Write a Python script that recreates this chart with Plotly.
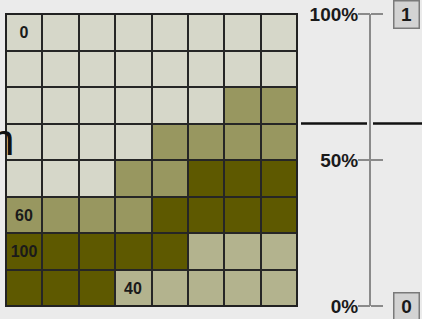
import plotly.graph_objects as go

# ---- data ----
columns = [0, 1, 2, 3, 4, 5, 6, 7]
rows = [0, 1, 2, 3, 4, 5, 6, 7]
cell_values = [
    [0, 0, 0, 0, 0, 0, 0, 0],
    [0, 0, 0, 0, 0, 0, 0, 0],
    [0, 0, 0, 0, 0, 0, 60, 60],
    [0, 0, 0, 0, 60, 60, 60, 60],
    [0, 0, 0, 60, 60, 100, 100, 100],
    [60, 60, 60, 60, 100, 100, 100, 100],
    [100, 100, 100, 100, 100, 40, 40, 40],
    [100, 100, 100, 40, 40, 40, 40, 40],
]
cell_labels = [
    ["0", "", "", "", "", "", "", ""],
    ["", "", "", "", "", "", "", ""],
    ["", "", "", "", "", "", "", ""],
    ["", "", "", "", "", "", "", ""],
    ["", "", "", "", "", "", "", ""],
    ["60", "", "", "", "", "", "", ""],
    ["100", "", "", "", "", "", "", ""],
    ["", "", "", "40", "", "", "", ""],
]
scale_ticks = [0, 0.5, 1.0]
scale_tick_labels = ["0%", "50%", "100%"]
marker_value = 0.625
top_box_label = "1"
bottom_box_label = "0"

W, H = 422, 319
BG = "#EBEBEB"
FONT = "Liberation Sans, Arial, sans-serif"

colorscale = [
    [0.0, "#D6D7C9"],
    [0.4, "#B3B38E"],
    [0.6, "#989760"],
    [1.0, "#5E5900"],
]

fig = go.Figure()
fig.add_trace(go.Heatmap(
    z=cell_values, x=columns, y=rows, text=cell_labels,
    texttemplate="<b>%{text}</b>",
    textfont=dict(family=FONT, size=16, color="#1a1a1a"),
    colorscale=colorscale, zmin=0, zmax=100, showscale=False,
    xgap=2, ygap=2, hoverinfo="skip",
))

x0p, x1p = 6 / W, 297 / W
y0p, y1p = (H - 306) / H, (H - 14) / H
axis_pos = 370 / W

tick_common = dict(
    domain=[y0p, y1p], range=[0, 1], anchor="free", position=axis_pos,
    overlaying="y", automargin=False, tickvals=scale_ticks,
    showgrid=False, zeroline=False,
)

fig.update_layout(
    width=W, height=H,
    margin=dict(l=0, r=0, t=0, b=0, pad=0, autoexpand=False),
    paper_bgcolor=BG, plot_bgcolor="#262626",
    showlegend=False,
    xaxis=dict(domain=[x0p, x1p], visible=False, range=[-0.5, 7.5], automargin=False),
    yaxis=dict(domain=[y0p, y1p], visible=False, range=[7.5, -0.5], automargin=False),
    # labels + axis line
    yaxis2=dict(
        **tick_common, side="left", ticktext=scale_tick_labels,
        ticks="", ticklabelstandoff=7,
        showline=True, linecolor="#8a8a8a", linewidth=2,
        tickfont=dict(family=FONT, size=19, color="#1a1a1a", weight="bold"),
    ),
    # right half of tick marks
    yaxis3=dict(
        **tick_common, side="right", showticklabels=False,
        ticks="outside", ticklen=12, tickwidth=1.5, tickcolor="#8a8a8a",
        showline=False,
    ),
    # left half of tick marks
    yaxis4=dict(
        **tick_common, side="left", showticklabels=False,
        ticks="outside", ticklen=12, tickwidth=1.5, tickcolor="#8a8a8a",
        showline=False,
    ),
)

# invisible helpers so that the scale axes are rendered
for ax in ["y2", "y3", "y4"]:
    fig.add_trace(go.Scatter(x=[0], y=[0], yaxis=ax, mode="markers",
                             marker=dict(opacity=0), hoverinfo="skip"))

# outer border of the grid
fig.add_shape(type="rect", xref="x domain", yref="y domain", x0=0, x1=1, y0=0, y1=1,
              line=dict(color="#222", width=2))

# threshold marker line across the scale
fig.add_shape(type="line", xref="paper", yref="y2", x0=301 / W, x1=367 / W,
              y0=marker_value, y1=marker_value, line=dict(color="#111", width=2.5))
fig.add_shape(type="line", xref="paper", yref="y2", x0=373 / W, x1=1.0,
              y0=marker_value, y1=marker_value, line=dict(color="#111", width=2.5))

# value boxes
for val, lab in [(1.0, top_box_label), (0.0, bottom_box_label)]:
    fig.add_annotation(
        x=406 / W, xref="paper", y=val, yref="y2", text="<b>%s</b>" % lab,
        showarrow=False, font=dict(family=FONT, size=19, color="#1a1a1a"),
        bgcolor="#D3D3D3", bordercolor="#7a7a7a", borderwidth=1.5,
        width=22, height=24, borderpad=1, xanchor="center", yanchor="middle",
    )

# cut-off title letter on the left
fig.add_annotation(
    x=16 / W, xref="paper", y=(H - 139) / H, yref="paper", text="n",
    showarrow=False, font=dict(family=FONT, size=44, color="#111"),
    xanchor="right", yanchor="middle",
)

fig.write_html("out.html", config={"displayModeBar": False},
               post_script="document.body.style.margin='0';")
